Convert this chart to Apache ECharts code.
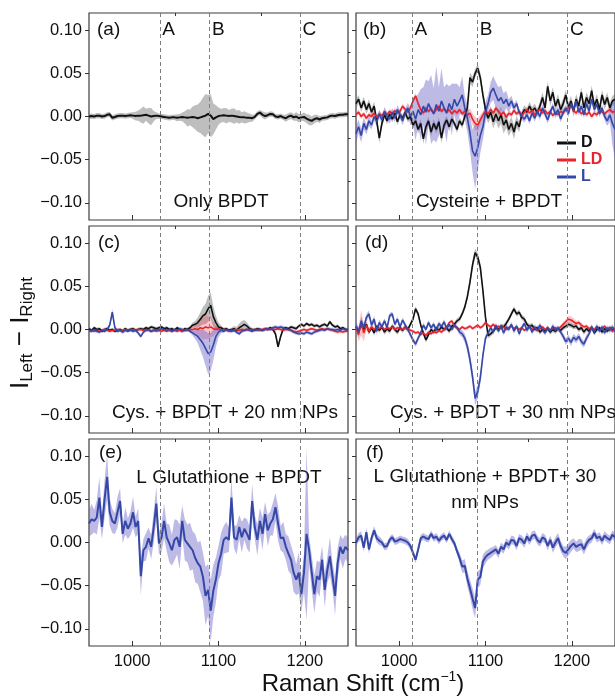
<!DOCTYPE html>
<html><head><meta charset="utf-8">
<script src="https://cdn.jsdelivr.net/npm/echarts@6/dist/echarts.min.js"></script>
<style>html,body{margin:0;padding:0;background:#fff}#chart{width:615px;height:698px}</style>
</head><body><div id="chart"></div>
<script>
// Raman shift sampling (cm^-1)
const ramanShift = [950,953,956,959,962,965,968,971,974,977,980,983,986,989,992,995,998,1001,1004,1007,1010,1013,1016,1019,1022,1025,1028,1031,1034,1037,1040,1043,1046,1049,1052,1055,1058,1061,1064,1067,1070,1073,1076,1079,1082,1085,1088,1091,1094,1097,1100,1103,1106,1109,1112,1115,1118,1121,1124,1127,1130,1133,1136,1139,1142,1145,1148,1151,1154,1157,1160,1163,1166,1169,1172,1175,1178,1181,1184,1187,1190,1193,1196,1199,1202,1205,1208,1211,1214,1217,1220,1223,1226,1229,1232,1235,1238,1241,1244,1247,1250];
// All intensities below are I_Left - I_Right in units of 1e-3; *Sd arrays are the half-width of the shaded band.
const milli = 0.001;

// (a) Only BPDT
const aD = [0,0.5,0,1,1,0,0.5,2,2.5,-1.5, -0.5,0.5,1,1,0.5,1,1.5,1,0.5,1, 1,1.5,2,1,0,0.5,1,0.5,0,-0.5, -1,-1.5,-1,-1,-1.5,-1,-0.5,-1,-1.5,-1, -0.5,-1,-2,-1,0,1,3,1,-3,-1, 0.5,1,1.5,1,0.5,1,0.5,0,-0.5,-1, -1,-1.5,-1.5,-2,-0.5,3,4.5,2,0.5,1.5, 3,2.5,0,-0.5,0.5,-1,-2,0,1,-1, 0,-2,-1,-0.5,-2.5,-4,-5,-3,-2,-3.5, -2,-1.5,-1,0.5,1,0.5,1.5,2,2,2.5, 2.5];
const aDSd = [3,3,3,3,3,3,3,3,3,3, 3,3,3,3,3,3,3,4,5,6, 8,10,7,9,10,6,4,3,3,3, 3,3,3,3,4,4,5,7,10,9, 12,14,16,18,22,25,22,25,18,14, 10,8,8,9,7,8,9,7,8,6, 7,6,5,4,3,3,3,4,4,3, 3,3,3,3,3,3,4,4,4,4, 5,5,4,5,5,6,5,5,4,4, 3,3,3,3,3,3,3,3,3,3, 3];

// (b) Cysteine + BPDT
const bD = [15,20,10,18,8,15,5,12,-5,-25, -8,2,-5,3,-3,4,-6,2,-2,5, -3,0,-10,-5,-15,-8,-26,-12,-5,-18, -8,-15,-6,-25,-10,-4,-12,-3,-8,-15, -5,-10,0,10,45,40,50,56,45,25, 8,-2,5,-6,3,-5,2,-10,-4,-15, -8,-18,-6,-12,2,8,5,12,6,10, 4,12,22,10,35,18,28,12,20,8, 15,25,10,18,6,20,12,28,10,22, 15,30,12,20,8,25,14,22,10,18, 20];
const bDSd = [5,5,5,5,5,5,5,5,6,6, 5,4,4,4,4,4,4,4,4,4, 4,4,4,5,5,5,6,5,5,5, 5,5,5,6,5,5,5,4,4,4, 4,4,4,5,6,6,5,5,6,6, 6,6,7,8,8,9,10,10,9,8, 8,8,7,6,5,5,5,5,5,5, 5,5,6,6,6,6,6,6,6,6, 6,6,6,6,6,6,6,6,6,6, 6,6,6,6,6,6,6,6,6,6, 6];
const bLD = [2,5,0,3,-2,2,0,4,-1,3, 1,5,2,6,3,7,4,6,12,8, 5,10,18,24,15,8,4,10,6,9, 4,8,12,6,9,5,8,3,7,4, 8,3,6,2,4,-3,-8,-10,-4,2, 6,3,8,4,10,6,2,5,-1,4, 2,7,3,6,1,5,8,4,7,2, 5,9,4,7,3,6,1,5,2,6, 4,8,10,13,7,4,8,3,6,2, 5,0,4,2,7,5,3,6,8,5, 6];
const bLDSd = [3,3,3,3,3,3,3,3,3,3, 3,3,3,3,3,3,3,3,3,3, 3,3,3,3,3,3,3,3,3,3, 3,3,3,3,3,3,3,3,3,3, 3,3,4,5,6,7,8,7,6,4, 3,3,3,3,3,3,3,3,3,3, 3,3,3,3,3,3,3,3,3,3, 3,3,3,3,3,3,3,3,3,3, 3,3,3,3,3,3,3,3,3,3, 3,3,3,3,3,3,3,3,3,3, 3];
const bL = [-20,-12,-22,-8,-15,-5,-10,0,-6,3, -4,6,0,-3,5,-2,8,2,-5,4, 10,0,6,-3,8,2,12,5,15,8, 3,14,6,18,10,4,15,8,20,12, 18,25,10,-2,-19,-40,-46,-36,-22,-12, 5,15,28,33,25,18,22,15,20,12, 18,10,15,5,0,-3,2,-5,4,-2, 6,0,10,3,-4,5,12,2,8,-3, 5,10,3,15,8,18,5,12,2,15, 6,20,8,14,3,10,0,-5,2,-8, -15];
const bLSd = [10,8,8,7,6,6,5,5,5,5, 5,5,5,5,5,5,5,5,5,5, 6,10,15,25,18,30,22,38,26,40, 30,44,28,38,24,34,20,30,18,26, 16,22,14,16,20,25,38,28,20,15, 12,10,12,14,15,16,14,12,10,8, 6,5,4,4,4,4,4,4,4,4, 4,4,4,4,4,4,4,4,4,4, 4,4,4,4,4,4,4,4,4,4, 4,4,4,4,4,4,5,6,8,25, 35];

// (c) Cys. + BPDT + 20 nm NPs
const cD = [1,-1,2,0,1,-2,0,1,-1,0, -2,-1,0,-2,1,-1,0,1,-1,0, 1,0,2,1,3,2,1,2,3,1, 2,0,1,-1,2,0,-2,1,0,2, 5,6,8,12,16,18,24,28,15,8, 3,2,0,1,-1,0,1,-1,2,4, 6,4,1,0,-1,1,0,-1,1,0, 2,0,-5,-20,-8,1,2,1,3,2, 1,4,6,4,7,5,6,4,5,3, 5,6,4,9,5,3,4,1,2,0, 0];
const cDSd = [2,2,2,2,2,2,2,2,2,2, 2,2,2,2,2,2,2,2,2,2, 2,2,2,2,2,2,2,2,2,2, 2,2,2,2,2,2,2,2,2,2, 3,4,6,8,10,12,15,15,12,8, 5,3,2,2,2,2,3,4,5,6, 5,4,3,2,2,2,2,2,2,2, 2,2,3,3,3,2,2,2,2,2, 2,2,2,2,2,2,2,2,2,2, 2,2,2,2,2,2,2,2,2,2, 2];
const cLD = [-2,-1,-2,-1,-2,-1,0,-1,-2,-1, -1,0,-1,-1,0,-1,-1,0,-1,0, 0,-1,0,-1,-2,-1,-2,-1,-2,-1, -2,-1,-2,-1,-2,-1,-2,-1,-1,0, 0,1,0,2,1,3,2,3,1,0, 1,-1,0,-1,-2,-1,-1,0,-1,0, -1,0,0,-1,0,0,-1,0,1,0, 1,0,0,1,0,-1,0,0,-1,-2, -3,-2,-1,0,-1,0,1,0,-1,0, 1,0,1,0,-1,-2,-3,-2,-3,-2, -2];
const cLDSd = [2,2,2,2,2,2,2,2,2,2, 2,2,2,2,2,2,2,2,2,2, 2,2,2,2,2,2,2,2,2,2, 2,2,2,2,2,2,2,2,2,2, 3,5,8,11,13,14,13,12,9,5, 3,2,2,2,2,2,2,2,2,2, 2,2,2,2,2,2,2,2,2,2, 2,2,2,2,2,2,2,2,2,2, 2,2,2,2,2,2,2,2,2,2, 2,2,2,2,2,2,2,2,2,2, 2];
const cL = [-1,-2,0,-2,-3,-1,-2,0,5,20, 2,-2,-1,-3,-1,-2,0,-2,-1,-4, -8,-3,-1,0,-2,-1,0,-1,1,0, -1,0,-2,0,-1,1,0,-1,0,-2, -4,-6,-8,-12,-16,-22,-28,-26,-18,-8, -3,-1,-2,0,-1,-2,-1,-3,-5,-2, -1,0,-1,-2,0,-1,0,-1,0,1, 0,2,3,2,3,2,1,0,-1,-3, -4,-5,-4,-5,-3,-4,-5,-3,-2,-1, 0,-1,1,0,0,-1,0,-1,1,0, -1];
const cLSd = [2,2,2,2,2,2,2,2,3,4, 3,2,2,2,2,2,2,2,2,2, 2,2,2,2,2,2,2,2,2,2, 2,2,2,2,2,2,2,2,2,2, 3,5,8,12,16,20,24,22,18,12, 6,3,2,2,2,2,2,2,2,2, 2,2,2,2,2,2,2,2,2,2, 2,2,2,2,2,2,2,2,2,2, 2,2,2,2,2,2,2,2,2,2, 2,2,2,2,2,2,2,2,2,2, 2];

// (d) Cys. + BPDT + 30 nm NPs
const dD = [3,-2,5,0,6,-3,2,-4,4,-1, 3,-3,1,-2,4,0,-3,2,-1,3, 0,6,12,24,18,5,-4,-12,-6,0, -3,2,-1,3,0,2,-2,4,6,10, 12,18,26,38,55,75,89,84,72,45, 14,-7,-5,-2,2,0,4,3,7,12, 18,24,18,20,14,12,6,3,5,0, 2,-3,0,-2,1,-3,0,-2,1,-1, 2,4,6,5,3,4,0,2,-3,1, -2,3,-4,0,2,-3,1,-2,2,-1, 0];
const dDSd = [3,3,3,3,3,3,3,3,3,3, 3,3,3,3,3,3,3,3,3,3, 3,3,3,3,3,3,3,3,3,3, 3,3,3,3,3,3,3,3,3,3, 3,3,4,4,5,5,5,5,5,4, 3,3,3,3,3,3,3,3,3,3, 3,3,3,3,3,3,3,3,3,3, 3,3,3,3,3,3,3,3,3,3, 3,3,3,3,3,3,3,3,3,3, 3,3,3,3,3,3,3,3,3,3, 3];
const dLD = [2,-6,8,-4,5,-2,3,0,2,1, 3,0,2,1,3,0,2,1,0,2, 1,-1,-2,-4,-3,-6,-4,-7,-3,-5, -2,-4,-1,-3,0,3,8,10,4,2, 0,3,1,2,4,1,3,5,2,4, 8,5,3,6,2,4,1,3,0,2, 4,1,3,0,2,-1,1,3,0,2, -1,1,3,0,2,-1,1,2,0,3, 6,9,12,11,9,7,8,5,3,4, 1,2,0,3,-1,1,4,0,2,-2, 1];
const dLDSd = [4,8,15,10,6,4,3,3,3,3, 2,2,2,2,2,2,2,2,2,2, 2,2,2,2,2,2,2,2,2,2, 2,2,2,2,2,2,2,2,2,2, 2,2,2,2,2,2,2,2,2,2, 2,2,2,2,2,2,2,2,2,2, 2,2,2,2,2,2,2,2,2,2, 2,2,2,2,2,2,2,2,2,2, 3,3,4,4,4,3,3,3,2,2, 2,2,2,2,2,2,2,2,2,2, 2];
const dL = [4,-3,10,2,14,18,5,12,-2,8, 3,10,2,16,18,6,12,3,11,5, 0,-6,-12,-17,-10,-4,5,0,8,2, 6,-1,7,3,9,1,6,0,5,2, -3,-5,-10,-20,-35,-55,-80,-72,-56,-30, -10,-4,2,-3,5,-2,4,-4,3,0, 6,-2,4,-5,2,7,-1,4,-3,3, -1,5,0,-4,2,-2,4,-1,2,-3, -8,-14,-10,-15,-9,-12,-8,-14,-17,-10, -5,2,-3,4,-2,3,-4,2,-1,3, -2];
const dLSd = [6,6,5,5,4,4,4,4,4,4, 3,3,3,3,3,3,3,3,3,3, 3,3,3,3,3,3,3,3,3,3, 3,3,3,3,3,3,3,3,3,3, 3,4,5,6,7,8,8,8,7,5, 4,3,3,3,3,3,3,3,3,3, 3,3,3,3,3,3,3,3,3,3, 3,3,3,3,3,3,3,3,3,3, 4,4,4,4,4,4,4,4,4,4, 3,3,3,3,3,3,3,3,3,3, 3];

// (e) L Glutathione + BPDT
const eL = [22,27,25,29,52,18,50,76,35,25, 22,35,48,10,25,16,22,35,18,25, -39,-9,-5,5,-5,18,45,-1,6,25, 6,-1,-9,3,6,-5,25,3,-1,-5, -9,-18,-24,-28,-40,-62,-55,-79,-56,-43, -24,-13,3,6,3,52,6,3,18,6, 16,10,3,48,18,3,25,10,33,14, 22,27,41,22,5,6,-5,-13,-20,-35, -43,-35,-60,-35,10,-9,-35,-60,-39,-43, -20,-55,-32,-16,-39,-62,-24,-5,-13,-5, -9];
const eLSd = [15,18,13,20,24,14,22,26,16,14, 12,18,15,11,16,12,14,18,12,15, 22,13,16,12,14,18,20,13,17,20, 16,22,18,24,20,26,18,24,22,28, 22,28,24,30,28,34,30,36,30,26, 20,24,16,18,14,24,13,17,14,18, 13,17,15,20,14,18,15,19,14,18, 14,19,16,20,14,18,15,20,17,22, 18,24,20,22,100,16,20,22,18,20, 16,20,15,22,16,22,18,14,17,14, 15];

// (f) L Glutathione + BPDT + 30 nm NPs
const fL = [0,6,8,-6,12,-8,5,14,5,2, 0,-5,-4,3,6,1,2,4,3,2, 0,-4,-12,-20,-8,5,7,5,4,10, 5,7,2,6,8,3,10,4,-1,-10, -18,-28,-27,-42,-53,-65,-76,-43,-40,-22, -17,-14,-12,-10,-8,-13,-5,-8,0,-3, 3,2,-4,5,3,-1,7,2,8,9, 3,0,6,4,-4,3,-6,0,5,-4, -10,-12,-8,-4,-1,-5,-3,-2,-8,-1, 3,5,11,5,7,2,8,5,3,9, 6];
const fLSd = [5,5,5,5,5,5,5,5,5,5, 4,4,4,4,4,4,4,4,4,4, 4,4,4,4,4,4,4,4,4,4, 4,4,4,4,4,4,4,4,4,4, 6,7,8,9,10,12,12,10,9,8, 7,6,6,5,5,5,5,5,5,5, 5,5,5,5,5,5,5,5,5,5, 5,5,5,5,5,5,6,6,6,6, 6,7,7,7,6,6,7,6,6,6, 5,5,5,5,5,5,5,5,5,5, 5];

// Reference lines A, B, C
const refLeft = [1032, 1089.5, 1194.5];
const refRight = [1015, 1090.5, 1195];
const refNames = ['A', 'B', 'C'];
const xTicks = [1000, 1100, 1200];
const xMinor = [1050, 1150];
const yTicks = [-0.1, -0.05, 0, 0.05, 0.1];
const yMinor = [-0.075, -0.025, 0.025, 0.075];

const all = {aD,aDSd,bD,bDSd,bLD,bLDSd,bL,bLSd,cD,cDSd,cLD,cLDSd,cL,cLSd,dD,dDSd,dLD,dLDSd,dL,dLSd,eL,eLSd,fL,fLSd};
for (const k in all) if (all[k].length !== ramanShift.length) throw new Error(k + ' length ' + all[k].length);

const COL = { D: '#111111', LD: '#e8232b', L: '#3448a8' };
const BAND = { D: 'rgba(110,110,110,0.45)', LD: 'rgba(235,70,80,0.30)', L: 'rgba(100,90,195,0.42)' };
const FONT = '"Liberation Sans", Arial, sans-serif';

const panels = [
  { lines: [['D', aD, aDSd]], left: true, top: true, width: 2 },
  { lines: [['D', bD, bDSd], ['LD', bLD, bLDSd], ['L', bL, bLSd]], left: false, top: true, width: 1.6 },
  { lines: [['D', cD, cDSd], ['LD', cLD, cLDSd], ['L', cL, cLSd]], left: true, top: false, width: 1.6 },
  { lines: [['D', dD, dDSd], ['LD', dLD, dLDSd], ['L', dL, dLSd]], left: false, top: false, width: 1.6 },
  { lines: [['L', eL, eLSd]], left: true, top: false, bottom: true, width: 2 },
  { lines: [['L', fL, fLSd]], left: false, top: false, bottom: true, width: 2 }
];

const rowTop = [13, 226, 439];
const grids = [], xAxes = [], yAxes = [], series = [];
panels.forEach((p, g) => {
  const row = Math.floor(g / 2);
  grids.push({ left: p.left ? 89 : 356, top: rowTop[row], width: 259, height: 207, show: true,
    borderColor: '#3c3c3c', borderWidth: 1.2, backgroundColor: 'transparent' });
  const xBase = { type: 'value', gridIndex: g, min: 950, max: 1250, splitLine: { show: false }, axisLine: { show: false, onZero: false } };
  xAxes.push(Object.assign({}, xBase, {
    axisTick: { show: true, inside: true, length: 5, customValues: xTicks, lineStyle: { color: '#333' } },
    axisLabel: { show: !!p.bottom, customValues: xTicks, fontSize: 16.5, color: '#111', fontFamily: FONT, margin: 7, formatter: v => String(v) }
  }));
  xAxes.push(Object.assign({}, xBase, {
    axisTick: { show: true, inside: true, length: 3, customValues: xMinor, lineStyle: { color: '#333' } },
    axisLabel: { show: false }
  }));
  const yBase = { type: 'value', gridIndex: g, min: -0.12, max: 0.12, splitLine: { show: false }, axisLine: { show: false, onZero: false } };
  yAxes.push(Object.assign({}, yBase, {
    axisTick: { show: true, inside: false, length: 4, customValues: yTicks, lineStyle: { color: '#333' } },
    axisLabel: { show: p.left, customValues: yTicks, fontSize: 16.5, color: '#111', fontFamily: FONT, margin: 7,
      formatter: v => (v < 0 ? '\u2212' : '') + Math.abs(v).toFixed(2) }
  }));
  yAxes.push(Object.assign({}, yBase, {
    axisTick: { show: true, inside: false, length: 2.5, customValues: yMinor, lineStyle: { color: '#333' } },
    axisLabel: { show: false }
  }));
  const refs = p.left ? refLeft : refRight;
  // shaded bands: stacked (lower, width) pairs; value stored first so the y value is the stacked dimension
  p.lines.forEach(([name, y, sd]) => {
    const key = 'band' + g + name;
    const common = { type: 'line', xAxisIndex: 2 * g, yAxisIndex: 2 * g, stack: key, stackStrategy: 'all',
      encode: { x: 1, y: 0 }, symbol: 'none', showSymbol: false, silent: true, z: 1, lineStyle: { opacity: 0, width: 0 } };
    series.push(Object.assign({}, common, { name: name + ' lower',
      data: y.map((v, i) => [(v - sd[i]) * milli, ramanShift[i]]) }));
    series.push(Object.assign({}, common, { name: name + ' band',
      data: y.map((v, i) => [2 * sd[i] * milli, ramanShift[i]]), areaStyle: { color: BAND[name], opacity: 1 } }));
  });
  // lines
  p.lines.forEach(([name, y], li) => {
    const s = { type: 'line', name, color: COL[name], xAxisIndex: 2 * g, yAxisIndex: 2 * g,
      data: y.map((v, i) => [ramanShift[i], v * milli]), symbol: 'none', showSymbol: false, silent: true, z: 3,
      lineStyle: { color: COL[name], width: p.width } };
    if (li === 0) {
      s.markLine = { silent: true, symbol: ['none', 'none'], label: { show: false },
        lineStyle: { color: '#7d7d7d', width: 1, type: [4, 3] },
        data: refs.map(r => ({ xAxis: r })) };
      if (p.top) {
        s.markPoint = { silent: true, symbol: 'circle', symbolSize: 1, itemStyle: { color: 'rgba(0,0,0,0)' },
          label: { show: true, position: 'right', distance: 2, formatter: '{b}', fontSize: 19, color: '#111', fontFamily: FONT },
          data: refs.map((r, k) => ({ name: refNames[k], coord: [r, 0.1] })) };
      }
    }
    series.push(s);
  });
});

function txt(x, y, text, align, extra) {
  return Object.assign({ type: 'text', x, y, silent: true,
    style: { text, fill: '#111', font: '19px ' + FONT, align: align || 'left', verticalAlign: 'middle' } }, extra || {});
}

const graphic = [
  txt(97, 30, '(a)'), txt(363, 30, '(b)'), txt(98, 243, '(c)'), txt(365, 243, '(d)'), txt(99, 453, '(e)'), txt(366, 453, '(f)'),
  txt(221, 202, 'Only BPDT', 'center'),
  txt(489, 202, 'Cysteine + BPDT', 'center'),
  txt(225, 413, 'Cys. + BPDT + 20 nm NPs', 'center'),
  txt(390, 413, 'Cys. + BPDT + 30 nm NPs', 'left'),
  txt(229, 478, 'L Glutathione + BPDT', 'center'),
  { type: 'text', x: 485, y: 490, silent: true,
    style: { text: 'L Glutathione + BPDT+ 30\nnm NPs', fill: '#111', font: '19px ' + FONT, align: 'center', verticalAlign: 'middle', lineHeight: 26 } },
  { type: 'text', x: 21, y: 333, rotation: Math.PI / 2, silent: true,
    style: { text: '{m|I}{s|Left}{m| \u2212 I}{s|Right}', fill: '#111', align: 'center', verticalAlign: 'middle',
      rich: { m: { fontSize: 26, fontFamily: FONT, lineHeight: 30, fill: '#111' },
              s: { fontSize: 17, fontFamily: FONT, lineHeight: 12, verticalAlign: 'bottom', fill: '#111' } } } },
  { type: 'text', x: 363, y: 684, silent: true,
    style: { text: '{m|Raman Shift (cm}{p|\u22121}{m|)}', fill: '#111', align: 'center', verticalAlign: 'middle',
      rich: { m: { fontSize: 24, fontFamily: FONT, lineHeight: 28, fill: '#111' },
              p: { fontSize: 14, fontFamily: FONT, lineHeight: 10, verticalAlign: 'top', fill: '#111' } } } }
];

const chart = echarts.init(document.getElementById('chart'), null, { renderer: 'canvas' });
chart.setOption({
  animation: false,
  backgroundColor: '#ffffff',
  grid: grids, xAxis: xAxes, yAxis: yAxes, series, graphic,
  legend: { show: true, orient: 'vertical', left: 557, top: 135, padding: 0, itemGap: 1, itemWidth: 19, itemHeight: 3,
    icon: 'rect', selectedMode: false,
    textStyle: { fontSize: 16, fontWeight: 'bold', fontFamily: FONT, lineHeight: 16 },
    data: [ { name: 'D', textStyle: { color: COL.D } }, { name: 'LD', textStyle: { color: COL.LD } }, { name: 'L', textStyle: { color: COL.L } } ] }
});
</script>
</body></html>
